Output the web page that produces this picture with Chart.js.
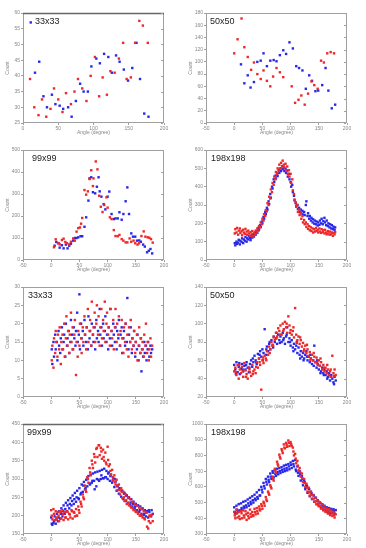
<!DOCTYPE html>
<html>
<head>
<script src="https://cdn.jsdelivr.net/npm/chart.js"></script>
<style>
  body { margin: 0; background: #fff; }
  #wrap { position: relative; width: 366px; height: 548px; }
  .cell { position: absolute; width: 183px; height: 137px; }
</style>
</head>
<body>
<div id="wrap"></div>
<script>
// panel titles and axis ranges [min, max, step]
const titles = ['33x33', '50x50', '99x99', '198x198', '33x33', '50x50', '99x99', '198x198'];
const xRanges = [[0, 200, 50], [-50, 200, 50], [-50, 200, 50], [-50, 200, 50], [-50, 200, 50], [-50, 200, 50], [-50, 200, 50], [-50, 200, 50]];
const yRanges = [[25, 60, 5], [0, 180, 20], [0, 500, 100], [0, 600, 100], [0, 30, 5], [20, 140, 20], [150, 450, 50], [300, 1000, 100]];

// [angle, count] per series
const p1Red = [[10,39],[16,30],[22,27.5],[27,32.5],[33,27],[39,29.5],[44,36],[50,32.5],[56,28.5],[61,34.5],[68,31],[73,35],[78,39],[84,36],[90,32],[96,40],[102,46],[108,33.5],[113,39.5],[119,34],[124,41.5],[130,41],[136,45.5],[142,50.5],[147,39],[153,39.5],[159,50.5],[165,57.5],[170,56],[177,50.5]];
const p1Blue = [[11,57],[17,41],[23,44.5],[29,33.5],[34,30],[41,34],[46,31],[52,30.5],[57,29.5],[64,30],[69,27],[75,32],[81,37.5],[86,35],[92,35],[97,43],[104,45.5],[109,44],[115,47],[121,46],[126,41],[132,46.5],[137,44.5],[143,42],[149,38.5],[155,42.5],[161,50.5],[166,39],[172,28],[178,27]];

const p2Red = [[0,114],[6,137],[13,171],[18,124],[24,108],[30,87],[35,99],[41,80],[47,72],[52,86],[58,69],[64,60],[69,76],[75,90],[81,83],[87,75],[102,60],[108,33],[114,38],[119,45],[125,30],[131,48],[137,68],[142,62],[148,56],[154,102],[159,99],[165,114],[171,116],[177,114]];
const p2Blue = [[12,96],[18,65],[24,78],[29,58],[35,67],[41,100],[47,102],[52,114],[58,93],[64,102],[70,103],[75,101],[81,111],[87,119],[92,113],[98,132],[104,122],[110,93],[115,90],[121,86],[127,56],[133,78],[138,69],[144,52],[149,53],[156,62],[162,90],[167,53],[173,24],[179,30]];

const p3Red = [[5,58],[8,94],[12,76],[15,71],[19,91],[22,97],[25,82],[28,76],[32,71],[35,83],[39,98],[42,88],[45,129],[48,145],[51,148],[53,165],[55,191],[59,318],[62,297],[65,312],[68,368],[71,408],[74,336],[75,371],[79,448],[82,412],[85,292],[88,242],[91,218],[94,250],[98,285],[100,238],[104,194],[107,186],[111,136],[114,109],[118,108],[121,114],[125,95],[128,88],[132,80],[135,80],[139,98],[142,83],[146,88],[149,76],[153,70],[156,76],[160,109],[164,130],[167,106],[171,103],[174,101],[177,95],[180,79]];
const p3Blue = [[6,65],[9,82],[13,77],[15,56],[19,67],[22,53],[26,70],[29,53],[32,65],[35,74],[39,88],[42,100],[45,100],[48,103],[52,108],[55,108],[59,151],[62,194],[66,270],[68,371],[71,376],[74,308],[78,303],[81,333],[84,376],[86,312],[89,288],[93,254],[96,230],[100,288],[103,311],[107,209],[111,186],[114,189],[118,189],[121,217],[125,183],[128,209],[132,267],[135,330],[138,209],[142,121],[145,106],[149,106],[152,88],[156,89],[159,83],[163,70],[166,61],[170,35],[173,42],[176,50],[179,30]];

const p4Red = [[1,145],[2,168],[4,150],[5,175],[7,138],[8,160],[10,172],[11,148],[13,158],[14,135],[16,165],[17,150],[19,142],[20,170],[22,155],[23,138],[25,160],[26,145],[28,132],[29,152],[31,140],[32,158],[34,128],[35,148],[37,138],[38,160],[40,150],[41,172],[43,160],[44,185],[46,178],[47,205],[49,195],[50,225],[52,215],[53,250],[55,240],[56,272],[58,265],[59,310],[61,300],[62,345],[64,335],[65,385],[67,370],[68,420],[70,410],[71,455],[73,440],[74,480],[76,470],[77,500],[79,485],[80,520],[82,498],[83,530],[85,510],[86,542],[88,520],[89,505],[91,525],[92,490],[94,510],[95,470],[97,490],[98,455],[100,470],[101,420],[103,440],[104,380],[106,360],[107,330],[109,315],[110,290],[112,300],[113,262],[115,275],[116,245],[118,255],[119,225],[121,240],[122,205],[124,218],[125,195],[127,205],[128,180],[130,195],[131,170],[133,185],[134,162],[136,178],[137,158],[139,172],[140,150],[142,168],[143,155],[145,175],[146,158],[148,165],[149,150],[151,172],[152,155],[154,148],[155,168],[157,152],[158,162],[160,145],[161,165],[163,150],[164,140],[166,158],[167,145],[169,138],[170,155],[172,140],[173,150],[175,132],[176,148],[178,140],[179,152]];
const p4Blue = [[1,92],[2,80],[4,100],[5,88],[7,95],[8,110],[10,85],[11,105],[13,98],[14,118],[16,92],[17,112],[19,105],[20,125],[22,100],[23,118],[25,112],[26,130],[28,120],[29,108],[31,135],[32,122],[34,140],[35,128],[37,150],[38,138],[40,160],[41,148],[43,175],[44,165],[46,190],[47,180],[49,210],[50,200],[52,235],[53,225],[55,262],[56,250],[58,285],[59,275],[61,320],[62,305],[64,360],[65,340],[67,400],[68,390],[70,440],[71,425],[73,460],[74,445],[76,472],[77,458],[79,490],[80,475],[82,500],[83,485],[85,512],[86,495],[88,505],[89,485],[91,498],[92,475],[94,488],[95,455],[97,470],[98,440],[100,425],[101,400],[103,410],[104,370],[106,350],[107,325],[109,310],[110,295],[112,300],[113,278],[115,285],[116,262],[118,275],[119,255],[121,268],[122,248],[124,262],[125,245],[127,300],[128,320],[130,240],[131,255],[133,225],[134,240],[136,215],[137,230],[139,205],[140,222],[142,198],[143,215],[145,195],[146,210],[148,188],[149,205],[151,192],[152,215],[154,200],[155,225],[157,195],[158,212],[160,230],[161,205],[163,190],[164,215],[166,185],[167,200],[169,178],[170,195],[172,172],[173,190],[175,168],[176,182],[178,165],[179,178]];

const p5Red = [[1,10],[2,14],[4,8],[5,16],[7,12],[8,18],[9,15],[11,11],[12,17],[14,13],[15,19],[17,9],[18,15],[20,17],[21,13],[23,20],[24,11],[26,16],[27,22],[29,14],[30,18],[32,12],[33,17],[35,23],[36,15],[38,19],[39,13],[41,17],[42,21],[44,6],[45,15],[47,11],[48,18],[50,14],[51,20],[53,16],[54,12],[56,19],[57,15],[59,22],[60,17],[62,13],[63,19],[65,24],[66,15],[68,18],[69,21],[71,14],[72,26],[74,17],[75,19],[77,23],[78,15],[80,20],[81,25],[83,17],[84,22],[86,14],[87,19],[89,24],[90,16],[92,21],[93,18],[95,26],[96,15],[98,20],[99,23],[101,17],[102,19],[104,14],[105,24],[107,18],[108,16],[110,21],[111,13],[113,19],[114,24],[116,15],[117,20],[119,17],[120,22],[122,14],[123,18],[125,21],[126,16],[128,12],[129,19],[131,15],[132,20],[134,13],[135,17],[137,11],[138,19],[140,15],[141,21],[143,13],[144,16],[146,14],[147,18],[149,12],[150,15],[152,17],[153,10],[155,14],[156,19],[158,12],[159,16],[161,13],[162,15],[164,11],[165,17],[167,14],[168,20],[170,12],[171,15],[173,10],[174,13],[176,16],[177,11],[179,14]];
const p5Blue = [[1,13],[2,9],[4,15],[5,11],[7,17],[8,13],[10,15],[11,10],[13,18],[14,14],[16,12],[17,16],[19,19],[20,13],[22,15],[23,17],[25,11],[26,20],[28,14],[29,16],[31,18],[32,12],[34,15],[35,21],[37,17],[38,13],[40,19],[41,16],[43,14],[44,18],[46,23],[47,15],[49,17],[50,28],[51,13],[53,20],[54,16],[56,18],[57,14],[59,21],[60,17],[62,15],[63,19],[65,13],[66,22],[68,16],[69,18],[71,14],[72,20],[74,17],[75,15],[77,19],[78,13],[80,21],[81,16],[83,18],[84,15],[86,24],[87,17],[89,19],[90,14],[92,20],[93,16],[95,18],[96,22],[98,15],[99,17],[101,13],[102,19],[104,16],[105,24],[107,18],[108,14],[110,20],[111,17],[113,15],[114,19],[116,13],[117,18],[119,16],[120,21],[122,14],[123,17],[125,19],[126,12],[128,16],[129,18],[131,14],[132,20],[134,15],[135,27],[137,13],[138,17],[140,15],[141,19],[143,12],[144,16],[146,14],[147,18],[149,11],[150,15],[152,13],[153,17],[155,10],[156,14],[158,12],[159,16],[160,7],[162,13],[163,11],[165,15],[166,12],[168,14],[169,10],[171,13],[172,15],[174,11],[176,14],[177,12],[179,13]];

const p6Red = [[0,48],[2,52],[4,44],[6,55],[8,40],[10,50],[12,46],[14,53],[16,42],[18,57],[20,49],[22,45],[24,40],[26,52],[28,47],[30,43],[32,55],[34,48],[36,50],[38,46],[40,58],[42,52],[44,62],[46,55],[48,28],[50,60],[52,57],[54,65],[56,62],[58,70],[60,66],[62,75],[64,72],[66,80],[68,77],[70,85],[72,82],[74,90],[76,86],[78,95],[80,92],[82,98],[84,88],[86,100],[88,94],[90,102],[92,96],[94,90],[96,108],[98,98],[100,93],[102,88],[104,92],[106,85],[108,117],[110,88],[112,82],[114,86],[116,78],[118,82],[120,75],[122,79],[124,72],[126,76],[128,68],[130,72],[132,65],[134,69],[136,62],[138,66],[140,60],[142,64],[144,58],[146,63],[148,55],[150,60],[152,54],[154,58],[156,50],[158,55],[160,48],[162,52],[164,46],[166,50],[168,44],[170,48],[172,42],[174,65],[176,46],[178,50],[180,44],
  [3,47],[9,55],[15,48],[21,42],[27,50],[33,45],[39,53],[45,58],[51,63],[57,60],[63,68],[69,76],[75,84],[81,88],[87,92],[93,100],[99,90],[105,96],[111,79],[117,85],[123,70],[129,77],[135,60],[141,68],[147,58],[153,62],[159,52],[165,55],[171,50],[177,43]];
const p6Blue = [[0,55],[2,50],[4,58],[6,47],[8,53],[10,45],[12,51],[14,56],[16,48],[18,54],[20,50],[22,58],[24,52],[26,47],[28,56],[30,60],[32,53],[34,58],[36,65],[38,60],[40,56],[42,67],[44,62],[46,70],[48,64],[50,72],[52,68],[54,94],[56,66],[58,75],[60,70],[62,78],[64,72],[66,82],[68,76],[70,86],[72,80],[74,84],[76,78],[78,88],[80,82],[82,86],[84,80],[86,90],[88,84],[90,78],[92,86],[94,96],[96,80],[98,84],[100,76],[102,82],[104,74],[106,78],[108,72],[110,76],[112,68],[114,74],[116,66],[118,70],[120,64],[122,68],[124,62],[126,66],[128,70],[130,60],[132,64],[134,58],[136,62],[138,56],[140,60],[142,76],[144,58],[146,52],[148,56],[150,50],[152,54],[154,48],[156,52],[158,46],[160,50],[162,44],[164,48],[166,42],[168,46],[170,38],[172,44],[174,40],[176,36],[178,42],[180,38],
  [3,45],[9,57],[15,50],[21,55],[27,52],[33,62],[39,58],[45,66],[51,60],[57,72],[63,80],[69,74],[75,90],[81,79],[87,82],[93,88],[99,80],[105,70],[111,80],[117,62],[123,60],[129,64],[135,66],[141,54],[147,60],[153,46],[159,44],[165,40],[171,42],[177,34]];

const p7Red = [[0,215],[2,190],[4,218],[6,188],[8,212],[10,190],[12,210],[14,185],[16,212],[18,192],[20,215],[22,188],[24,210],[26,195],[28,212],[30,190],[32,205],[34,195],[36,215],[38,192],[40,210],[42,198],[44,218],[46,200],[48,225],[50,208],[52,238],[54,225],[56,258],[58,245],[60,282],[62,265],[64,305],[66,290],[68,330],[70,310],[72,350],[74,330],[76,368],[78,345],[80,382],[82,360],[84,392],[86,365],[88,385],[90,355],[92,380],[94,350],[96,372],[98,340],[100,388],[102,335],[104,340],[106,312],[108,325],[110,298],[112,310],[114,285],[116,298],[118,270],[120,285],[122,258],[124,275],[126,248],[128,265],[130,240],[132,258],[134,232],[136,250],[138,228],[140,245],[142,222],[144,238],[146,215],[148,232],[150,210],[152,228],[154,205],[156,222],[158,200],[160,218],[162,195],[164,212],[166,190],[168,208],[170,170],[172,165],[174,200],[176,180],[178,202],[180,185],
  [1,200],[5,205],[9,195],[13,200],[17,210],[21,205],[25,195],[29,210],[33,203],[37,212],[41,208],[45,200],[49,215],[53,232],[57,250],[61,270],[65,300],[69,318],[73,340],[77,360],[81,385],[85,392],[89,375],[93,360],[97,345],[101,352],[105,322],[109,305],[113,292],[117,282],[121,270],[125,265],[129,250],[133,242],[137,235],[141,225],[145,220],[149,215],[153,210],[157,200],[161,200],[165,193],[169,208],[173,185],[177,200]];
const p7Blue = [[0,195],[2,175],[4,180],[6,198],[8,178],[10,205],[12,185],[14,212],[16,192],[18,220],[20,198],[22,228],[24,205],[26,235],[28,212],[30,242],[32,220],[34,248],[36,228],[38,255],[40,232],[42,262],[44,238],[46,268],[48,248],[50,275],[52,258],[54,285],[56,265],[58,292],[60,272],[62,298],[64,280],[66,308],[68,288],[70,312],[72,290],[74,315],[76,295],[78,318],[80,280],[82,320],[84,298],[86,322],[88,300],[90,325],[92,302],[94,328],[96,305],[98,322],[100,300],[102,318],[104,295],[106,312],[108,290],[110,302],[112,278],[114,292],[116,268],[118,282],[120,260],[122,275],[124,252],[126,268],[128,245],[130,262],[132,240],[134,255],[136,235],[138,250],[140,230],[142,245],[144,225],[146,238],[148,220],[150,232],[152,215],[154,228],[156,210],[158,225],[160,205],[162,220],[164,202],[166,215],[168,198],[170,212],[172,195],[174,210],[176,200],[178,215],[180,205],
  [1,178],[5,185],[9,190],[13,195],[17,205],[21,212],[25,218],[29,228],[33,232],[37,240],[41,245],[45,250],[49,245],[53,262],[57,282],[61,275],[65,300],[69,285],[73,295],[77,272],[81,300],[85,295],[89,310],[93,302],[97,305],[101,315],[105,308],[109,296],[113,300],[117,280],[121,275],[125,268],[129,260],[133,255],[137,248],[141,236],[145,232],[149,225],[153,228],[157,215],[161,218],[165,205],[169,210],[173,215],[177,198]];

const p8Red = [[0,440],[2,400],[4,455],[6,405],[8,440],[10,395],[12,445],[14,400],[16,450],[18,405],[20,445],[22,390],[24,435],[26,400],[28,455],[30,410],[32,440],[34,415],[36,460],[38,425],[40,465],[42,430],[44,475],[46,450],[48,490],[50,460],[52,505],[54,480],[56,535],[58,510],[60,570],[62,550],[64,610],[66,590],[68,665],[70,640],[72,715],[74,690],[76,760],[78,735],[80,805],[82,780],[84,840],[86,815],[88,870],[90,845],[92,880],[94,855],[96,895],[98,860],[100,885],[102,860],[104,850],[106,800],[108,810],[110,750],[112,765],[114,705],[116,720],[118,665],[120,685],[122,630],[124,650],[126,600],[128,620],[130,570],[132,595],[134,545],[136,570],[138,525],[140,548],[142,505],[144,530],[146,490],[148,512],[150,478],[152,500],[154,462],[156,488],[158,450],[160,475],[162,440],[164,462],[166,430],[168,458],[170,420],[172,450],[174,415],[176,440],[178,405],[180,425],
  [1,418],[5,430],[9,412],[13,432],[17,418],[21,425],[25,415],[29,428],[33,420],[37,440],[41,445],[45,460],[49,478],[53,495],[57,520],[61,560],[65,600],[69,650],[73,705],[77,745],[81,790],[85,830],[89,850],[93,868],[97,880],[101,872],[105,825],[109,780],[113,735],[117,695],[121,655],[125,625],[129,595],[133,565],[137,548],[141,525],[145,508],[149,492],[153,478],[157,465],[161,455],[165,448],[169,438],[173,432],[177,420]];
const p8Blue = [[0,470],[2,430],[4,480],[6,440],[8,490],[10,450],[12,495],[14,455],[16,505],[18,465],[20,510],[22,470],[24,520],[26,480],[28,530],[30,490],[32,540],[34,500],[36,550],[38,515],[40,565],[42,525],[44,580],[46,545],[48,600],[50,565],[52,625],[54,590],[56,650],[58,615],[60,665],[62,630],[64,685],[66,650],[68,700],[70,660],[72,705],[74,670],[76,715],[78,680],[80,720],[82,688],[84,725],[86,695],[88,735],[90,700],[92,740],[94,705],[96,745],[98,712],[100,755],[102,720],[104,765],[106,730],[108,770],[110,700],[112,730],[114,670],[116,700],[118,640],[120,668],[122,610],[124,640],[126,585],[128,612],[130,562],[132,590],[134,540],[136,568],[138,522],[140,548],[142,505],[144,530],[146,490],[148,515],[150,478],[152,500],[154,465],[156,490],[158,455],[160,480],[162,445],[164,470],[166,440],[168,465],[170,435],[172,460],[174,432],[176,458],[178,430],[180,452],
  [1,440],[5,455],[9,448],[13,465],[17,475],[21,482],[25,495],[29,505],[33,515],[37,525],[41,535],[45,545],[49,582],[53,605],[57,632],[61,645],[65,665],[69,690],[73,682],[77,695],[81,700],[85,708],[89,715],[93,720],[97,730],[101,740],[105,745],[109,710],[113,690],[117,680],[121,648],[125,630],[129,605],[133,585],[137,560],[141,545],[145,530],[149,508],[153,495],[157,480],[161,470],[165,462],[169,455],[173,450],[177,445]];

const reds = [p1Red, p2Red, p3Red, p4Red, p5Red, p6Red, p7Red, p8Red];
const blues = [p1Blue, p2Blue, p3Blue, p4Blue, p5Blue, p6Blue, p7Blue, p8Blue];
const titleDx = [12, 4, 9, 5, 5, 4, 4, 5];
const darkTop = [true, false, false, false, false, false, true, false];

const FONT = 'Liberation Sans, Arial, sans-serif';

// frame around plot area, inner ticks on the right, panel label
const framePlugin = {
  id: 'frame',
  afterDraw(chart, args, opts) {
    const { ctx, chartArea: a, scales } = chart;
    ctx.save();
    ctx.strokeStyle = '#a0a0a0';
    ctx.lineWidth = 1;
    ctx.strokeRect(a.left + 0.5, a.top + 0.5, a.right - a.left - 1, a.bottom - a.top - 1);
    if (opts.darkTop) {
      ctx.strokeStyle = '#666';
      ctx.lineWidth = 1.5;
      ctx.beginPath();
      ctx.moveTo(a.left, a.top + 0.5);
      ctx.lineTo(a.right, a.top + 0.5);
      ctx.stroke();
    }
    ctx.strokeStyle = '#a0a0a0';
    ctx.lineWidth = 1;
    scales.y.ticks.forEach(t => {
      const y = Math.round(scales.y.getPixelForValue(t.value)) + 0.5;
      ctx.beginPath();
      ctx.moveTo(a.right - 1, y);
      ctx.lineTo(a.right - 3, y);
      ctx.stroke();
    });
    ctx.fillStyle = '#222';
    ctx.font = '9px ' + FONT;
    ctx.textBaseline = 'top';
    ctx.fillText(opts.title, a.left + opts.dx, a.top + 4);
    ctx.restore();
  }
};

const wrap = document.getElementById('wrap');

titles.forEach((title, i) => {
  const cell = document.createElement('div');
  cell.className = 'cell';
  cell.style.left = (i % 2) * 183 + 'px';
  cell.style.top = Math.floor(i / 2) * 137 + 'px';
  const cv = document.createElement('canvas');
  cv.width = 183;
  cv.height = 137;
  cell.appendChild(cv);
  wrap.appendChild(cell);

  const [xMin, xMax, xStep] = xRanges[i];
  const [yMin, yMax, yStep] = yRanges[i];

  new Chart(cv, {
    type: 'scatter',
    data: {
      datasets: [
        { data: reds[i].map(([x, y]) => ({ x, y })), backgroundColor: 'rgb(238,40,40)' },
        { data: blues[i].map(([x, y]) => ({ x, y })), backgroundColor: 'rgb(40,40,235)' }
      ]
    },
    options: {
      responsive: false,
      animation: false,
      devicePixelRatio: 1,
      layout: { padding: { top: 13, right: 19, left: 0, bottom: 0 } },
      elements: { point: { radius: 1.7, pointStyle: 'rect', borderWidth: 0, hoverRadius: 1.7 } },
      plugins: {
        legend: { display: false },
        tooltip: { enabled: false },
        frame: { title: title, dx: titleDx[i], darkTop: darkTop[i] }
      },
      scales: {
        x: {
          type: 'linear',
          min: xMin, max: xMax,
          afterFit(s) { s.height = 14; },
          ticks: { stepSize: xStep, font: { size: 5, family: FONT }, color: '#888', padding: 1, maxRotation: 0, callback: v => String(v) },
          grid: { drawOnChartArea: false, tickLength: 2, color: '#a0a0a0' },
          border: { display: false },
          title: { display: true, text: 'Angle (degree)', font: { size: 5, family: FONT }, color: '#888', padding: { top: 0, bottom: 1 } }
        },
        y: {
          min: yMin, max: yMax,
          afterFit(s) { s.width = 23; },
          ticks: { stepSize: yStep, font: { size: 5, family: FONT }, color: '#888', padding: 1, callback: v => String(v) },
          grid: { drawOnChartArea: false, tickLength: 2, color: '#a0a0a0' },
          border: { display: false },
          title: { display: true, text: 'Count', font: { size: 5, family: FONT }, color: '#888', padding: { top: 5, bottom: 0 } }
        }
      }
    },
    plugins: [framePlugin]
  });
});
</script>
</body>
</html>
